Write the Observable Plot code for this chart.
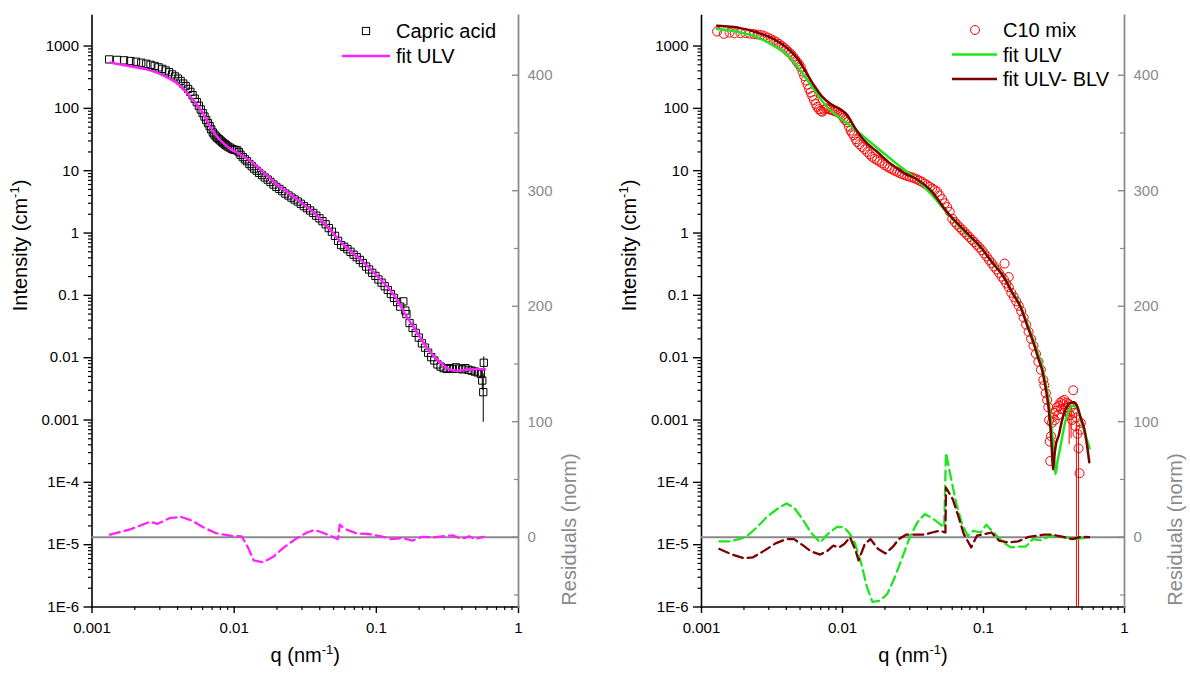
<!DOCTYPE html>
<html><head><meta charset="utf-8">
<script src="https://cdn.jsdelivr.net/npm/d3@7"></script>
<script src="https://cdn.jsdelivr.net/npm/@observablehq/plot@0.6"></script>
<style>
html,body{margin:0;padding:0;background:#fff;}
#root{position:relative;width:1190px;height:675px;overflow:hidden;font-family:"Liberation Sans",Arial,sans-serif;}
.panel{position:absolute;top:0;width:595px;height:675px;}
.panel > svg{position:absolute;left:0;top:0;overflow:visible;}
</style></head><body><div id="root"></div>
<script>
// ---------- tick labels ----------
const xMajorTicks = [0.001, 0.01, 0.1, 1];
const xTickLabels = ["0.001", "0.01", "0.1", "1"];
const yMajorTicks = [1e-6, 1e-5, 1e-4, 0.001, 0.01, 0.1, 1, 10, 100, 1000];
const yTickLabels = ["1E-6", "1E-5", "1E-4", "0.001", "0.01", "0.1", "1", "10", "100", "1000"];
const residTicks = [0, 100, 200, 300, 400];
const residMinorTicks = [-50, 50, 150, 250, 350];

// ---------- left panel: Capric acid ----------
const capricQ = [0.00132,0.00150,0.00168,0.00186,0.00204,0.00222,0.00240,0.00258,0.00276,0.00294,
 0.00312,0.00330,0.00348,0.00366,0.00384,0.00402,0.00420,0.00438,0.00456,0.00474,
 0.00492,0.00510,0.00528,0.00546,0.00564,0.00582,0.00600,0.00618,0.00636,0.00654,
 0.00672,0.00690,0.00708,0.00726,0.00744,0.00762,0.00780,0.00800,0.00820,0.0084,
 0.0086,0.0088,0.0090,0.0093,0.0096,0.0099,0.0102,0.0105,0.0108,0.0111,
 0.0115,0.0119,0.0123,0.0128,0.0133,0.0138,0.0144,0.0150,0.0157,0.0164,
 0.0172,0.0180,0.0189,0.0198,0.0208,0.0218,0.0229,0.0241,0.0253,0.0266,
 0.0280,0.0294,0.0309,0.0325,0.0342,0.0360,0.0378,0.0398,0.0418,0.0440,
 0.0463,0.0487,0.0512,0.0538,0.0566,0.0595,0.0626,0.0658,0.0692,0.0728,
 0.0766,0.0805,0.0847,0.0890,0.0936,0.0985,0.1035,0.1089,0.1145,0.1204,
 0.1266,0.1331,0.1400,0.1472,0.1548,0.1600,0.1628,0.1712,0.1800,0.1893,
 0.1990,0.2093,0.2200,0.2314,0.2433,0.2558,0.2690,0.2829,0.2974,0.3128,
 0.3289,0.3458,0.3636,0.3824,0.4021,0.4228,0.4446,0.4675,0.4916,0.5169,
 0.5435,0.5560,0.5650,0.5700];
const capricI = [610,600,590,575,560,540,520,500,480,455,
 430,405,380,350,325,300,275,250,228,205,
 184,163,143,126,110,96,84,74,65,58,
 52,46,41,38,35.5,33.5,32,30.5,29,27.5,
 26.5,25.5,24.5,23.5,22.5,21.8,21.5,21.2,19.8,18,
 16.5,15.2,14.2,12.8,11.8,10.8,10,9.2,8.5,7.8,
 7.2,6.6,6.0,5.5,5.1,4.7,4.3,4.0,3.7,3.45,
 3.2,2.95,2.7,2.5,2.3,2.1,1.9,1.72,1.55,1.38,
 1.2,1.05,0.9,0.75,0.64,0.6,0.55,0.5,0.45,0.41,
 0.37,0.33,0.29,0.26,0.23,0.205,0.18,0.16,0.14,0.122,
 0.105,0.091,0.078,0.066,0.08,0.057,0.050,0.036,0.030,0.025,
 0.021,0.017,0.0145,0.012,0.0102,0.009,0.0078,0.0072,0.0068,0.0066,
 0.0068,0.0066,0.0070,0.0067,0.0065,0.0068,0.0064,0.0062,0.0060,0.0058,
 0.0055,0.0043,0.0028,0.0083];
const capricErrQ = [0.4916, 0.5169, 0.5435, 0.5560, 0.5650, 0.5700];
const capricErrLo = [0.0052, 0.0049, 0.0046, 0.0030, 0.00092, 0.0062];
const capricErrHi = [0.0068, 0.0067, 0.0064, 0.0060, 0.0055, 0.0103];

const ulvLeftQ = [0.00135,0.0019,0.0025,0.0033,0.0041,0.0048,0.0055,0.0061,0.0068,0.0076,0.0085,0.0095,0.0107,0.012,0.0135,0.0155,0.019,0.0254,0.030,0.0369,0.045,0.0536,0.065,0.08,0.10,0.12,0.14,0.164,0.185,0.21,0.245,0.28,0.32,0.37,0.42,0.50,0.58];
const ulvLeftI = [543,469,414,324,238,164,113,80,51,35,27,22,19,16.3,13.4,10.2,6.6,4.06,3.0,2.05,1.3,0.81,0.52,0.35,0.21,0.136,0.085,0.045,0.03,0.019,0.0116,0.0085,0.0067,0.0062,0.0063,0.0066,0.0065];

const residLeftQ = [0.00134,0.00188,0.00256,0.0029,0.0035,0.0042,0.0051,0.0061,0.0074,0.0094,0.0113,0.0125,0.0137,0.0159,0.0186,0.0224,0.027,0.0325,0.0368,0.0417,0.0473,0.0537,0.0553,0.0604,0.0729,0.0878,0.112,0.127,0.153,0.179,0.21,0.252,0.30,0.345,0.38,0.414,0.45,0.497,0.569];
const residLeftR = [2.2,7,13.4,11.6,16.5,17.7,14.2,8.5,3.6,1.3,0.7,-8.8,-20,-21.7,-17.4,-8.8,-1.6,4.1,6.2,4.1,1.3,-1.6,10.8,7.1,3.3,2.8,0.4,-1.6,-0.7,-3,0.4,-0.2,1.0,1.6,-0.5,-0.7,0.8,-1.6,0.4];

// ---------- right panel: C10 mix ----------
const c10Q = [0.00129,0.00144,0.00158,0.00172,0.00189,0.00205,0.00220,0.00235,0.00250,0.00265,
 0.00280,0.00295,0.00310,0.00325,0.00340,0.00355,0.00370,0.00385,0.00400,0.00415,
 0.00430,0.00445,0.00460,0.00475,0.00490,0.00505,0.00520,0.00535,0.00550,0.00565,
 0.00580,0.00595,0.00610,0.00627,0.00645,0.00661,0.00680,0.00700,0.00718,0.00740,
 0.00760,0.00778,0.00800,0.00822,0.00845,0.00870,0.00895,0.00917,0.00945,0.00970,
 0.00995,0.0102,0.0105,0.0108,0.0111,0.0114,0.0117,0.0120,0.0124,0.0127,
 0.0132,0.0138,0.0144,0.0150,0.0156,0.0162,0.0169,0.0176,0.0183,0.0191,
 0.0199,0.0208,0.0216,0.0225,0.0234,0.0244,0.0254,0.0265,0.0276,0.0288,
 0.0300,0.0312,0.0325,0.0339,0.0353,0.0367,0.0383,0.0399,0.0416,0.0433,
 0.0451,0.0470,0.0489,0.0509,0.0530,0.0553,0.0576,0.0600,0.0625,0.0650,
 0.0677,0.0705,0.0734,0.0764,0.0795,0.0828,0.0862,0.0897,0.0934,0.0972,
 0.1012,0.1053,0.1096,0.1141,0.1188,0.1237,0.1287,0.1340,0.1395,0.1410,
 0.1452,0.1510,0.1512,0.1575,0.1640,0.1707,0.1777,0.1850,0.1926,0.2005,
 0.2087,0.2173,0.2262,0.2355,0.2452,0.2552,0.2657,0.2700,0.2766,0.2830,
 0.2880,0.2920,0.2950,0.2975,0.3010,0.3050,0.3100,0.3150,0.3200,0.3260,
 0.3320,0.3380,0.3440,0.3500,0.3560,0.3620,0.3680,0.3750,0.3820,0.3890,
 0.3960,0.4030,0.4100,0.4170,0.4250,0.4330,0.4400,0.4480,0.4560,0.4640,
 0.4720,0.4800,0.4850,0.4900];
const c10I = [1710,1570,1640,1600,1611,1620,1580,1560,1530,1500,
 1440,1370,1290,1230,1160,1080,1010,940,870,800,
 750,680,620,560,510,460,390,330,280,240,
 205,180,158,136,118,106,97,91,88,95,
 99,100,97,95,94,91,89,88,84,80,
 76,70,65,60,51,44,40,37,32,29,
 26.5,24,22,20,18.2,16.7,15.6,14.8,14,13.1,
 12.3,11.6,11,10.5,10,9.6,9.2,8.8,8.5,8.2,
 8.0,7.8,7.5,7.24,6.9,6.63,6.2,5.86,5.5,5.19,
 4.9,4.58,4.0,3.5,3.0,2.6,2.2,1.7,1.5,1.36,
 1.24,1.13,1.03,0.94,0.86,0.78,0.71,0.645,0.59,0.53,
 0.47,0.42,0.37,0.33,0.29,0.26,0.23,0.20,0.18,0.324,
 0.155,0.197,0.135,0.11,0.094,0.08,0.068,0.056,0.044,0.034,
 0.026,0.020,0.0155,0.0115,0.0086,0.0064,0.0044,0.0036,0.0027,0.0021,
 0.0016,0.0010,0.00045,0.00022,0.00055,0.0009,0.0011,0.0013,0.0010,0.0014,
 0.0016,0.0012,0.0017,0.0019,0.0015,0.0020,0.0018,0.0021,0.0016,0.0019,
 0.0014,0.0018,0.0012,0.0016,0.0010,0.0030,0.0013,0.0008,0.0011,0.0006,
 0.00035,0.00014,0.0007,0.0009];
const c10ErrQ = [0.405, 0.418, 0.456, 0.472];
const c10ErrLo = [0.0004, 0.0005, 1e-6, 1e-6];
const c10ErrHi = [0.0016, 0.0013, 0.0013, 0.0007];

const ulvRightQ = [0.00129,0.00189,0.00248,0.00326,0.00405,0.00477,0.00562,0.00644,0.00737,0.00867,0.0108,0.01416,0.01963,0.02577,0.0339,0.0421,0.0553,0.0600,0.0745,0.0953,0.115,0.139,0.160,0.183,0.205,0.227,0.245,0.261,0.273,0.283,0.292,0.299,0.306,0.313,0.319,0.324,0.335,0.350,0.365,0.382,0.400,0.426,0.450,0.470,0.490,0.520,0.565];
const ulvRightI = [1871,1648,1390,1007,722,469,286,185,121,83,57.5,35,19,11.6,7.06,4.31,2.1,1.7,1.02,0.59,0.342,0.2,0.113,0.068,0.0343,0.0185,0.011,0.0072,0.0043,0.0029,0.0017,0.0011,0.00065,0.00035,0.0002,0.000136,0.00022,0.00036,0.0006,0.00098,0.00135,0.0017,0.00165,0.0014,0.001,0.00065,0.00035];

const blvQ = [0.00129,0.00189,0.00248,0.00326,0.00405,0.00477,0.00548,0.00625,0.00717,0.00821,0.00964,0.0108,0.0121,0.01416,0.0176,0.0218,0.0271,0.0339,0.0421,0.0553,0.0600,0.0745,0.0953,0.115,0.139,0.160,0.183,0.205,0.227,0.245,0.261,0.273,0.283,0.292,0.299,0.305,0.311,0.318,0.326,0.342,0.357,0.372,0.390,0.410,0.437,0.460,0.488,0.520,0.563];
const blvI = [2113,1940,1648,1291,925,639,389,238,154,118,97,78,51,31,20.1,13.1,9.25,7.24,4.88,2.15,1.75,1.06,0.598,0.34,0.197,0.11,0.065,0.032,0.0168,0.0097,0.0062,0.0037,0.0023,0.0013,0.0007,0.00035,0.00016,0.00026,0.0004,0.00057,0.0009,0.00125,0.00165,0.00188,0.00193,0.0017,0.0011,0.0007,0.00021];

const residUlvQ = [0.00134,0.00161,0.00205,0.00247,0.00296,0.00355,0.00401,0.00453,0.00512,0.00597,0.00695,0.00785,0.00914,0.0103,0.0113,0.0122,0.0136,0.0149,0.0163,0.0184,0.0208,0.0235,0.0266,0.0300,0.0339,0.0383,0.0433,0.0474,0.0526,0.0542,0.0587,0.0643,0.0705,0.0773,0.0846,0.0955,0.1047,0.118,0.1337,0.1556,0.176,0.1986,0.224,0.254,0.304,0.365,0.439,0.511,0.56];
const residUlvR = [-3.6,-3.6,0,8.5,18.5,25.7,29.2,25.7,17,4.1,-4.5,2.7,9,8.5,2.7,-4.5,-23,-43,-56,-55,-49,-34.6,-17.4,0,12.8,20,16.5,12.8,8.5,73,51.6,28.6,11.4,1.3,5.6,4.1,10.8,4.1,-3,-8.8,-8.2,-8.2,-1.6,-2.5,1.3,0.4,-1.6,-0.7,-0.7];
const residBlvQ = [0.00134,0.00161,0.00199,0.00232,0.00279,0.00335,0.00401,0.00453,0.00528,0.00597,0.00695,0.00785,0.00861,0.00942,0.0103,0.0113,0.0124,0.0130,0.0144,0.0158,0.0179,0.0202,0.0228,0.0251,0.0282,0.0329,0.0383,0.0433,0.0488,0.0537,0.0542,0.0605,0.0662,0.0725,0.0818,0.0898,0.101,0.114,0.129,0.150,0.176,0.21,0.27,0.31,0.365,0.425,0.49,0.56];
const residBlvR = [-10.2,-14.5,-18.2,-17.4,-11.6,-5.3,-1.6,-1.6,-7.3,-12.2,-15,-11.6,-7.3,-8.8,-5.9,0,-11.6,-20,-5.9,-1.6,-10.2,-14,-8.2,-1.6,2.2,2.2,2.2,4.1,5.6,4.1,43,33,18.5,2.7,-8.8,1.3,2.7,4.1,-3,-4.5,-3.6,0.4,2.2,2.2,0.4,-1.6,0.4,0];

// ---------- styling ----------
const FONT = '"Liberation Sans", Arial, Helvetica, sans-serif';
const GREY = "#8a8a8a";
const MAGENTA = "#ff22ff";
const GREEN = "#1ee61e";
const BROWN = "#7a0000";
const RED = "#ff0000";
const X_DOMAIN = [0.001, 1];
const Y_DOMAIN = [1e-6, Math.pow(10, 3.49)];
const R_DOMAIN = [-60.4, 451.7];
const W = 595, H = 675, MT = 15, MB = 68.5;

const pts = (qs, vs) => qs.map((q, i) => ({q, v: vs[i]})).filter(d => d.v != null);
const errs = (qs, lo, hi) => qs.map((q, i) => ({q, lo: lo[i], hi: hi[i]}));

const isMajor = (v, majors) => majors.some(m => Math.abs(v / m - 1) < 1e-6);
const minorX = d3.scaleLog().domain(X_DOMAIN).ticks().filter(v => !isMajor(v, xMajorTicks));
const minorY = d3.scaleLog().domain(Y_DOMAIN).ticks().filter(v => !isMajor(v, yMajorTicks) && v < 1000);

function supify(svg) {
  d3.select(svg).selectAll("text").each(function () {
    const t = this.textContent;
    const m = t.match(/^(.*)\^(-1)(.*)$/);
    if (!m) return;
    const sel = d3.select(this);
    sel.text(null);
    sel.append("tspan").text(m[1]);
    sel.append("tspan").attr("dy", -8).attr("font-size", 13).text(m[2]);
    sel.append("tspan").attr("dy", 8).text(m[3]);
  });
}

function mainPlot(ml, mr, dataMarks) {
  const svg = Plot.plot({
    width: W, height: H, marginLeft: ml, marginRight: mr, marginTop: MT, marginBottom: MB,
    x: {type: "log", domain: X_DOMAIN, axis: null},
    y: {type: "log", domain: Y_DOMAIN, axis: null},
    style: {fontFamily: FONT, fontSize: "15px", background: "transparent", color: "black", overflow: "visible"},
    marks: [
      ...dataMarks,
      Plot.axisY(yMajorTicks, {anchor: "left", tickSize: 8, tickPadding: 5, strokeWidth: 1.4, fontSize: 15,
        tickFormat: d => yTickLabels[yMajorTicks.indexOf(d)], label: null}),
      Plot.axisY(minorY, {anchor: "left", tickSize: 3.5, strokeWidth: 1.2, tickFormat: () => "", label: null}),
      Plot.axisX(xMajorTicks, {anchor: "bottom", tickSize: 6.5, tickPadding: 9, strokeWidth: 1.4, fontSize: 15,
        tickFormat: d => xTickLabels[xMajorTicks.indexOf(d)], label: null}),
      Plot.axisX(minorX, {anchor: "bottom", tickSize: 3.5, strokeWidth: 1.2, tickFormat: () => "", label: null}),
      Plot.frame({anchor: "left", strokeWidth: 1.6}),
      Plot.frame({anchor: "bottom", strokeWidth: 1.6}),
      Plot.text(["Intensity (cm^-1)"], {text: d => d, frameAnchor: "left", dx: -71.5, rotate: -90, fontSize: 20}),
      Plot.text(["q (nm^-1)"], {text: d => d, frameAnchor: "bottom", dy: 54.5, fontSize: 20})
    ]
  });
  supify(svg);
  return svg;
}

function residPlot(ml, mr, lineMarks) {
  const svg = Plot.plot({
    width: W, height: H, marginLeft: ml, marginRight: mr, marginTop: MT, marginBottom: MB,
    x: {type: "log", domain: X_DOMAIN, axis: null},
    y: {type: "linear", domain: R_DOMAIN, axis: null},
    style: {fontFamily: FONT, fontSize: "15px", background: "transparent", overflow: "visible"},
    marks: [
      Plot.ruleY([0], {stroke: GREY, strokeWidth: 1.8}),
      ...lineMarks,
      Plot.axisY(residTicks, {anchor: "right", tickSize: -7, tickPadding: 16, strokeWidth: 1.4, color: GREY, fontSize: 15,
        tickFormat: d => String(d), label: null}),
      Plot.axisY(residMinorTicks, {anchor: "right", tickSize: -5, strokeWidth: 1.2, color: GREY, tickFormat: () => "", label: null}),
      Plot.frame({anchor: "right", stroke: GREY, strokeWidth: 1.8})
    ]
  });
  // rotated axis title for the residual scale
  const cx = W - mr + 51, cy = H - MB - 77;
  d3.select(svg).append("text")
    .attr("transform", `translate(${cx},${cy}) rotate(-90)`)
    .attr("text-anchor", "middle").attr("dy", "0.35em")
    .attr("font-family", FONT).attr("font-size", 20).attr("fill", GREY)
    .text("Residuals (norm)");
  return svg;
}

function legend(items, symX, lineX1, lineX2, textX) {
  const svg = d3.create("svg").attr("width", W).attr("height", 110)
    .style("position", "absolute").style("left", "0px").style("top", "0px")
    .attr("font-family", FONT).attr("font-size", 20);
  for (const it of items) {
    if (it.kind === "square") {
      svg.append("rect").attr("x", symX - 3.6).attr("y", it.y - 3.6).attr("width", 7.2).attr("height", 7.2)
        .attr("fill", "none").attr("stroke", "black").attr("stroke-width", 1);
    } else if (it.kind === "circle") {
      svg.append("circle").attr("cx", symX).attr("cy", it.y).attr("r", 4.5)
        .attr("fill", "none").attr("stroke", RED).attr("stroke-width", 1);
    } else {
      svg.append("line").attr("x1", lineX1).attr("x2", lineX2).attr("y1", it.y).attr("y2", it.y)
        .attr("stroke", it.color).attr("stroke-width", 2.6);
    }
    svg.append("text").attr("x", textX).attr("y", it.y).attr("dy", "0.35em").text(it.label);
  }
  return svg.node();
}

const root = document.getElementById("root");
function panel(left) {
  const d = document.createElement("div");
  d.className = "panel";
  d.style.left = left + "px";
  root.appendChild(d);
  return d;
}

// Left panel
const L_ML = 91.5, L_MR = 77;
const pL = panel(0);
pL.appendChild(mainPlot(L_ML, L_MR, [
  Plot.ruleX(errs(capricErrQ, capricErrLo, capricErrHi), {x: "q", y1: "lo", y2: "hi", stroke: "black", strokeWidth: 1}),
  Plot.dot(pts(capricQ, capricI), {x: "q", y: "v", symbol: "square", r: 4.1, stroke: "black", fill: "none", strokeWidth: 1}),
  Plot.line(pts(ulvLeftQ, ulvLeftI), {x: "q", y: "v", stroke: MAGENTA, strokeWidth: 2.5, curve: "monotone-x"})
]));
pL.appendChild(residPlot(L_ML, L_MR, [
  Plot.line(pts(residLeftQ, residLeftR), {x: "q", y: "v", stroke: MAGENTA, strokeWidth: 2.3, strokeDasharray: "10,5", curve: "linear"})
]));
pL.appendChild(legend([
  {kind: "square", y: 31, label: "Capric acid"},
  {kind: "line", color: MAGENTA, y: 56, label: "fit ULV"}
], 366, 342, 390, 396));

// Right panel
const R_ML = 106, R_MR = 66;
const pR = panel(595);
pR.appendChild(mainPlot(R_ML, R_MR, [
  Plot.ruleX(errs(c10ErrQ, c10ErrLo, c10ErrHi), {x: "q", y1: "lo", y2: "hi", stroke: RED, strokeWidth: 1}),
  Plot.dot(pts(c10Q, c10I), {x: "q", y: "v", r: 4.5, stroke: RED, fill: "none", strokeWidth: 1}),
  Plot.line(pts(ulvRightQ, ulvRightI), {x: "q", y: "v", stroke: GREEN, strokeWidth: 2.5, curve: "monotone-x"}),
  Plot.line(pts(blvQ, blvI), {x: "q", y: "v", stroke: BROWN, strokeWidth: 2.5, curve: "monotone-x"})
]));
pR.appendChild(residPlot(R_ML, R_MR, [
  Plot.line(pts(residUlvQ, residUlvR), {x: "q", y: "v", stroke: GREEN, strokeWidth: 2.3, strokeDasharray: "10,5"}),
  Plot.line(pts(residBlvQ, residBlvR), {x: "q", y: "v", stroke: BROWN, strokeWidth: 2.3, strokeDasharray: "10,5"})
]));
pR.appendChild(legend([
  {kind: "circle", y: 30, label: "C10 mix"},
  {kind: "line", color: GREEN, y: 54.5, label: "fit ULV"},
  {kind: "line", color: BROWN, y: 79, label: "fit ULV- BLV"}
], 380, 357, 402, 408));
</script>
</body></html>
